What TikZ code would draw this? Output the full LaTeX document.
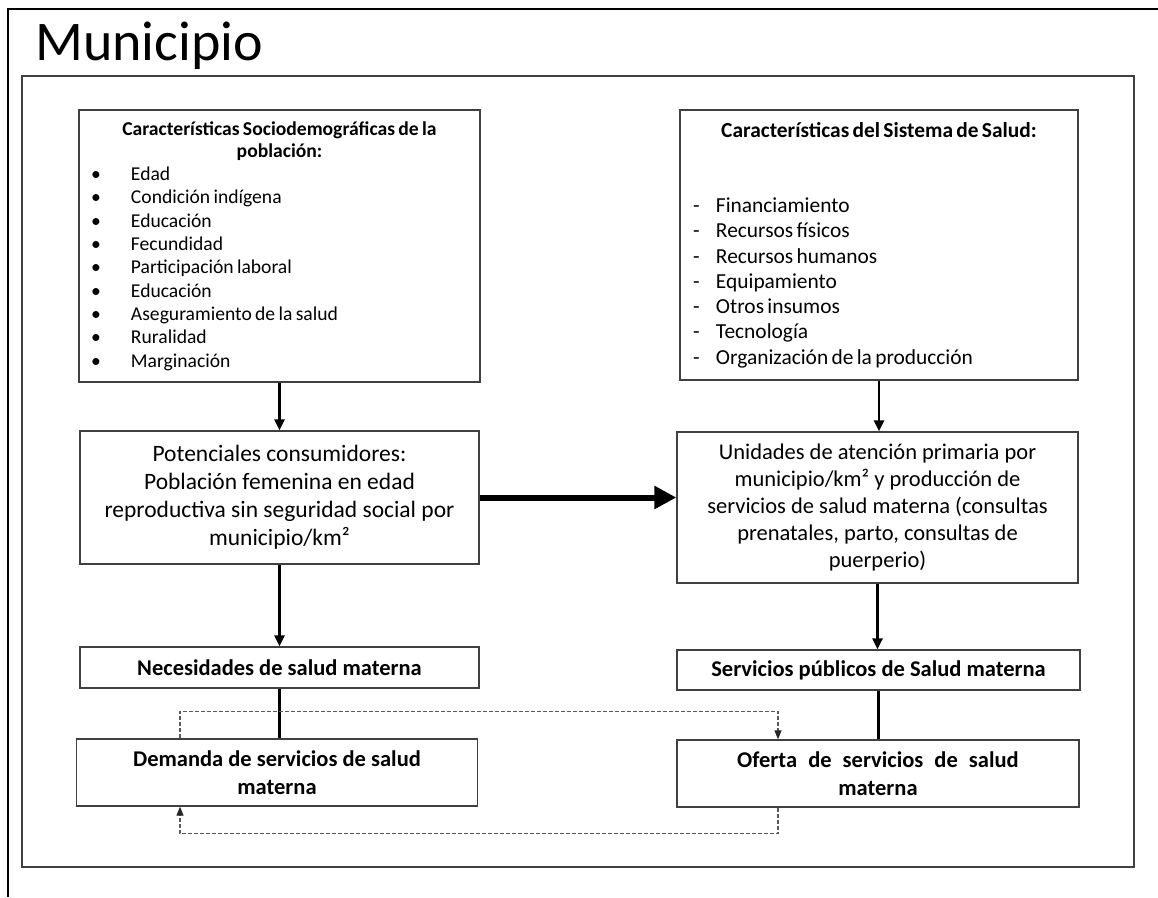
\documentclass[tikz,border=0pt]{standalone}
\usepackage{fontspec}
\setmainfont{Carlito}
\usetikzlibrary{arrows.meta}

\newcommand{\vinieta}{\makebox[40pt][l]{\textbullet}}
\newcommand{\guion}{\makebox[23pt][l]{-}}

\begin{document}
\begin{tikzpicture}[x=1pt,y=-1pt,
        caja/.style={draw=black!75,line width=1.3pt,inner sep=0pt},
        flecha/.style={line width=2.8pt,-{Triangle[length=11pt,width=10pt]}},
        linea/.style={line width=2.8pt},
        negrita/.style={font=\fontsize{22.5}{28}\bfseries\selectfont},
        punteada/.style={draw=black!65,line width=1.2pt,dash pattern=on 4pt off 2pt,-{Triangle[length=9pt,width=7pt,fill=black!85,color=black!85]}}]
        \useasboundingbox (0,0) rectangle (1158,897);
        % marcos
        \draw[line width=1.5pt] (1158,9) -- (8,9) -- (8,897);
        \draw[draw=black!75,line width=1.3pt] (22,76) rectangle (1134,867);
        \node[anchor=base west,inner sep=0pt,font=\fontsize{56}{60}\selectfont] (titulo) at (35,60) {Municipio};
        % cajas
        \node[caja,minimum width=401pt,minimum height=272pt,text width=377pt,align=left] (socio) at (279.5,246) {%
            {\centering\fontsize{19.6}{22}\bfseries\selectfont Características Sociodemográficas de la\\ población:\par}
            \fontsize{19.6}{23.3}\selectfont
            \vinieta Edad\\ \vinieta Condición indígena\\ \vinieta Educación\\ \vinieta Fecundidad\\
            \vinieta Participación laboral\\ \vinieta Educación\\ \vinieta Aseguramiento de la salud\\
            \vinieta Ruralidad\\ \vinieta Marginación\par};
        \node[caja,minimum width=398pt,minimum height=270pt,text width=372pt,align=left] (sistema) at (879,245) {%
            {\centering\fontsize{21.4}{25}\bfseries\selectfont Características del Sistema de Salud:\par}
            \fontsize{21.4}{25.3}\selectfont
            \vspace{50pt}
            \guion Financiamiento\\ \guion Recursos físicos\\ \guion Recursos humanos\\ \guion Equipamiento\\
            \guion Otros insumos\\ \guion Tecnología\\ \guion Organización de la producción\par};
        \node[caja,minimum width=399pt,minimum height=133pt,text width=390pt,align=flush center,font=\fontsize{23.5}{28}\selectfont] (consumidores) at (279.5,497.5)
            {Potenciales consumidores:\\ Población femenina en edad\\ reproductiva sin seguridad social por\\ municipio/km²};
        \node[caja,minimum width=401pt,minimum height=151pt,text width=390pt,align=flush center,font=\fontsize{22.5}{27}\selectfont] (unidades) at (877.5,507.5)
            {Unidades de atención primaria por\\ municipio/km² y producción de\\ servicios de salud materna (consultas\\ prenatales, parto, consultas de\\ puerperio)};
        \node[caja,negrita,minimum width=399pt,minimum height=41pt] (necesidades) at (279.5,667.5) {Necesidades de salud materna};
        \node[caja,negrita,minimum width=403pt,minimum height=40pt] (publicos) at (878.5,670) {Servicios públicos de Salud materna};
        \node[caja,negrita,minimum width=401pt,minimum height=67pt,align=flush center] (demanda) at (277,772.5) {Demanda de servicios de salud\\ materna};
        \node[caja,negrita,minimum width=402pt,minimum height=67pt,align=flush center] (oferta) at (878,773.5) {Oferta\hspace{6pt} de\hspace{6pt} servicios\hspace{6pt} de\hspace{6pt} salud\\ materna};
        % conectores
        \draw[flecha] (socio.south) -- (consumidores.north);
        \draw[flecha] (sistema.south) -- (sistema.south |- unidades.north);
        \draw[line width=6pt,-{Triangle[length=22pt,width=22pt]}] (consumidores.east) -- (consumidores.east -| unidades.west);
        \draw[flecha] (consumidores.south) -- (necesidades.north);
        \draw[flecha] (unidades.south) -- (unidades.south |- publicos.north);
        \draw[linea] (necesidades.south) -- (necesidades.south |- demanda.north);
        \draw[linea] (publicos.south) -- (publicos.south |- oferta.north);
        \coordinate (izq) at (180,0);
        \coordinate (der) at (778,0);
        \draw[punteada] (demanda.north -| izq) -- ++(0,-27) -| (oferta.north -| der);
        \draw[punteada] (oferta.south -| der) -- ++(0,26) -| (demanda.south -| izq);
    \end{tikzpicture}
\end{document}
